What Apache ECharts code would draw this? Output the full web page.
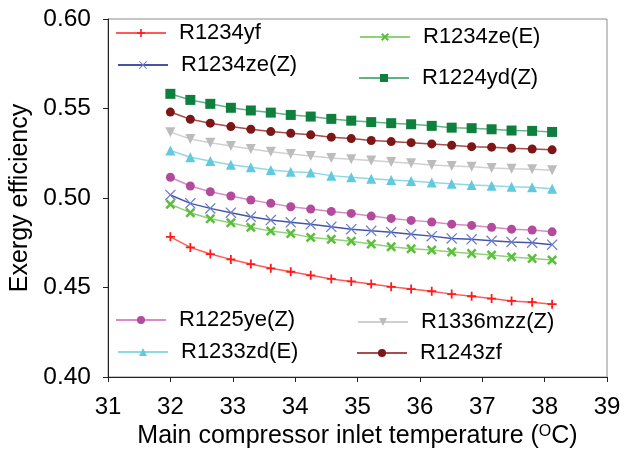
<!DOCTYPE html>
<html>
<head>
<meta charset="utf-8">
<script src="https://cdn.jsdelivr.net/npm/echarts@6/dist/echarts.min.js"></script>
<style>
html,body{margin:0;padding:0;background:#fff;}
#chart{width:632px;height:450px;}
</style>
</head>
<body>
<div id="chart"></div>
<script>
// Main compressor inlet temperature (°C)
const temps = [32.00, 32.32, 32.64, 32.97, 33.29, 33.61, 33.93, 34.25, 34.58, 34.90,
               35.22, 35.54, 35.86, 36.19, 36.51, 36.83, 37.15, 37.47, 37.80, 38.12];

// Exergy efficiency per working fluid
const r1234yf = [0.4783, 0.4724, 0.4687, 0.4657, 0.4631, 0.4607, 0.4588, 0.4568, 0.4548, 0.4534,
                 0.4519, 0.4504, 0.4491, 0.4479, 0.4463, 0.4451, 0.4438, 0.4425, 0.4418, 0.4407];
const r1234zeZ = [0.5017, 0.4970, 0.4942, 0.4918, 0.4895, 0.4877, 0.4864, 0.4853, 0.4839, 0.4826,
                  0.4817, 0.4809, 0.4798, 0.4787, 0.4774, 0.4769, 0.4761, 0.4754, 0.4750, 0.4739];
const r1234zeE = [0.4965, 0.4918, 0.4884, 0.4862, 0.4836, 0.4815, 0.4802, 0.4780, 0.4769, 0.4759,
                  0.4743, 0.4727, 0.4716, 0.4709, 0.4699, 0.4690, 0.4681, 0.4671, 0.4662, 0.4653];
const r1224ydZ = [0.5582, 0.5548, 0.5526, 0.5504, 0.5489, 0.5477, 0.5464, 0.5455, 0.5442, 0.5432,
                  0.5424, 0.5418, 0.5412, 0.5403, 0.5393, 0.5390, 0.5384, 0.5377, 0.5375, 0.5369];
const r1225yeZ = [0.5116, 0.5067, 0.5035, 0.5011, 0.4989, 0.4970, 0.4951, 0.4938, 0.4925, 0.4914,
                  0.4899, 0.4886, 0.4875, 0.4866, 0.4854, 0.4847, 0.4836, 0.4826, 0.4821, 0.4811];
const r1336mzzZ = [0.5368, 0.5330, 0.5309, 0.5291, 0.5274, 0.5259, 0.5246, 0.5235, 0.5224, 0.5217,
                   0.5209, 0.5201, 0.5194, 0.5185, 0.5179, 0.5174, 0.5168, 0.5164, 0.5161, 0.5155];
const r1233zdE = [0.5265, 0.5228, 0.5207, 0.5186, 0.5172, 0.5157, 0.5147, 0.5142, 0.5125, 0.5116,
                  0.5108, 0.5101, 0.5095, 0.5086, 0.5080, 0.5073, 0.5069, 0.5063, 0.5060, 0.5052];
const r1243zf = [0.5480, 0.5440, 0.5418, 0.5399, 0.5384, 0.5371, 0.5362, 0.5353, 0.5340, 0.5332,
                 0.5321, 0.5315, 0.5309, 0.5302, 0.5295, 0.5287, 0.5284, 0.5278, 0.5274, 0.5269];

// Axis settings
const xMin = 31, xMax = 39, xStep = 1;
const yMin = 0.40, yMax = 0.60, yStep = 0.05;

const FONT = 'Liberation Sans, Arial, sans-serif';

// Marker shapes
const PLUS = 'path://M4,0 L6,0 L6,4 L10,4 L10,6 L6,6 L6,10 L4,10 L4,6 L0,6 L0,4 L4,4 Z';
const THIN_X = 'path://M0,0.8 L0.8,0 L5,4.2 L9.2,0 L10,0.8 L5.8,5 L10,9.2 L9.2,10 L5,5.8 L0.8,10 L0,9.2 L4.2,5 Z';
const THICK_X = 'path://M0,1.8 L1.8,0 L5,3.2 L8.2,0 L10,1.8 L6.8,5 L10,8.2 L8.2,10 L5,6.8 L1.8,10 L0,8.2 L3.2,5 Z';

function pairs(ys) { return temps.map((t, i) => [t, ys[i]]); }

function mkSeries(name, ys, marker, lineColor, symbol, size, rotate) {
  return {
    name: name,
    type: 'line',
    data: pairs(ys),
    symbol: symbol,
    symbolSize: size,
    symbolRotate: rotate || 0,
    showAllSymbol: true,
    lineStyle: { color: lineColor, width: 1.5 },
    itemStyle: { color: marker, borderWidth: 0 },
    emphasis: { disabled: true },
    animation: false
  };
}

const series = [
  mkSeries('R1234yf', r1234yf, '#ff1a1a', '#ff5a5a', PLUS, 9),
  mkSeries('R1234ze(E)', r1234zeE, '#5cbf3c', '#8fd27a', THICK_X, 10),
  mkSeries('R1234ze(Z)', r1234zeZ, '#6a7cc8', '#4455a8', THIN_X, 11),
  mkSeries('R1224yd(Z)', r1224ydZ, '#0f7f3d', '#5fb283', 'rect', 10),
  mkSeries('R1225ye(Z)', r1225yeZ, '#b24a9e', '#d88cc6', 'circle', 9),
  mkSeries('R1336mzz(Z)', r1336mzzZ, '#bcbcbc', '#d0d0d0', 'triangle', 10, 180),
  mkSeries('R1233zd(E)', r1233zdE, '#63c9dc', '#8fd9e6', 'triangle', 10),
  mkSeries('R1243zf', r1243zf, '#7d1616', '#a84c4c', 'circle', 9)
];

// Legend entries: name and anchor (left of line sample, vertical centre)
const legendNames = ['R1234yf', 'R1234ze(Z)', 'R1234ze(E)', 'R1224yd(Z)',
                     'R1225ye(Z)', 'R1233zd(E)', 'R1336mzz(Z)', 'R1243zf'];
const legendLeft = [115, 117, 359, 358, 115, 117, 357, 356];
const legendMidY = [33, 65, 37, 78, 320, 352, 322, 353];

const legends = legendNames.map((n, i) => ({
  data: [n],
  left: legendLeft[i],
  top: legendMidY[i] - 14,
  itemWidth: 50,
  itemHeight: 10,
  padding: 0,
  selectedMode: false,
  textStyle: { fontFamily: FONT, fontSize: 22, color: '#000', padding: [0, 0, 0, 8], lineHeight: 28 }
}));

const option = {
  backgroundColor: '#fff',
  animation: false,
  grid: {
    left: 108, right: 25, top: 19, bottom: 73,
    outerBoundsMode: 'none',
    containLabel: false,
    show: true, borderColor: '#8c8c8c', borderWidth: 1
  },
  legend: legends,
  xAxis: {
    type: 'value',
    min: xMin, max: xMax, interval: xStep,
    axisLine: { show: true, lineStyle: { color: '#222', width: 1 } },
    axisTick: { show: true, inside: false, length: 5, lineStyle: { color: '#222' } },
    splitLine: { show: false },
    axisLabel: { fontFamily: FONT, fontSize: 24, color: '#000', margin: 18 },
    name: '{a|Main compressor inlet temperature (}{s|O}{a|C)}',
    nameLocation: 'middle',
    nameGap: 42,
    nameTextStyle: {
      rich: {
        a: { fontFamily: FONT, fontSize: 25, color: '#000' },
        s: { fontFamily: FONT, fontSize: 16, color: '#000', verticalAlign: 'top', padding: [0, 0, 9, 0] }
      }
    }
  },
  yAxis: {
    type: 'value',
    min: yMin, max: yMax, interval: yStep,
    axisLine: { show: true, lineStyle: { color: '#222', width: 1 } },
    axisTick: { show: true, inside: false, length: 5, lineStyle: { color: '#222' } },
    splitLine: { show: false },
    axisLabel: {
      fontFamily: FONT, fontSize: 24.5, color: '#000', margin: 17,
      formatter: v => v.toFixed(2)
    },
    name: 'Exergy efficiency',
    nameLocation: 'middle',
    nameGap: 74,
    nameTextStyle: { fontFamily: FONT, fontSize: 25, color: '#000' }
  },
  series: series
};

const chart = echarts.init(document.getElementById('chart'), null, { renderer: 'canvas' });
chart.setOption(option);
</script>
</body>
</html>
